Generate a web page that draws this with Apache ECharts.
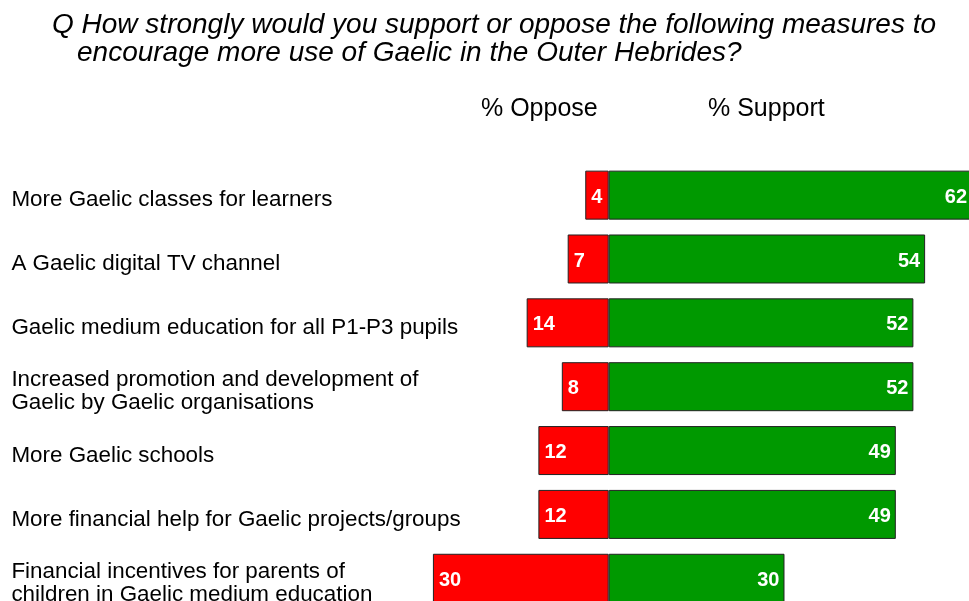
<!DOCTYPE html>
<html>
<head>
<meta charset="utf-8">
<script src="https://cdn.jsdelivr.net/npm/echarts@6/dist/echarts.min.js"></script>
<style>
html,body{margin:0;padding:0;background:#fff;}
#c{width:969px;height:601px;}
</style>
</head>
<body>
<div id="c"></div>
<script>
var categories = [
  'More Gaelic classes for learners',
  'A Gaelic digital TV channel',
  'Gaelic medium education for all P1-P3 pupils',
  'Increased promotion and development of\nGaelic by Gaelic organisations',
  'More Gaelic schools',
  'More financial help for Gaelic projects/groups',
  'Financial incentives for parents of\nchildren in Gaelic medium education'
];
var opposeValues = [4, 7, 14, 8, 12, 12, 30];
var supportValues = [62, 54, 52, 52, 49, 49, 30];
var titleLine1 = 'Q How strongly would you support or oppose the following measures to';
var titleLine2 = 'encourage more use of Gaelic in the Outer Hebrides?';
var headers = ['% Oppose', '% Support'];

var chart = echarts.init(document.getElementById('c'), null, {renderer: 'canvas'});
var FONT = '"Liberation Sans", Arial, sans-serif';
var labelStyle = {color: '#fff', fontWeight: 'bold', fontSize: 20, fontFamily: FONT, offset: [0, 2]};
var titleStyle = {fontStyle: 'italic', fontWeight: 'normal', fontSize: 28, color: '#000', fontFamily: FONT};
var headStyle = {fontWeight: 'normal', fontSize: 25, color: '#000', fontFamily: FONT};
var hiddenAxis = {axisLine: {show: false}, axisTick: {show: false}, axisLabel: {show: false}, splitLine: {show: false}};

chart.setOption({
  animation: false,
  backgroundColor: '#fff',
  title: [
    {text: titleLine1, left: 52, top: 11, padding: 0, textStyle: titleStyle},
    {text: titleLine2, left: 77, top: 39, padding: 0, textStyle: titleStyle},
    {text: headers[0], left: 481, top: 97, padding: 0, textStyle: headStyle},
    {text: headers[1], left: 708, top: 97, padding: 0, textStyle: headStyle}
  ],
  grid: [
    {left: 245.4, width: 726.6, top: 163.2, height: 447, containLabel: false, outerBoundsMode: 'none'},
    {left: 245.4, width: 726.6, top: 168.2, height: 447, containLabel: false, outerBoundsMode: 'none'}
  ],
  xAxis: [
    Object.assign({type: 'value', min: -62, max: 62, gridIndex: 0}, hiddenAxis),
    Object.assign({type: 'value', min: -62, max: 62, gridIndex: 1}, hiddenAxis)
  ],
  yAxis: [
    Object.assign({type: 'category', data: categories, inverse: true, gridIndex: 0}, hiddenAxis),
    {
      type: 'category', data: categories, inverse: true, gridIndex: 1,
      axisLine: {show: false}, axisTick: {show: false}, splitLine: {show: false},
      axisLabel: {
        align: 'left', margin: 234, color: '#000', fontSize: 22.4, lineHeight: 23,
        fontFamily: FONT
      }
    }
  ],
  series: [
    {
      name: 'Oppose', type: 'bar', stack: 'total', barWidth: 49,
      data: opposeValues.map(function (v) { return -v; }),
      itemStyle: {color: '#ff0000', borderColor: '#222', borderWidth: 1},
      label: Object.assign({show: true, position: 'insideLeft', distance: 6,
        formatter: function (p) { return Math.abs(p.value); }}, labelStyle)
    },
    {
      name: 'Support', type: 'bar', stack: 'total', barWidth: 49,
      data: supportValues,
      itemStyle: {color: '#009900', borderColor: '#222', borderWidth: 1},
      label: Object.assign({show: true, position: 'insideRight', distance: 5}, labelStyle)
    }
  ]
});
</script>
</body>
</html>
